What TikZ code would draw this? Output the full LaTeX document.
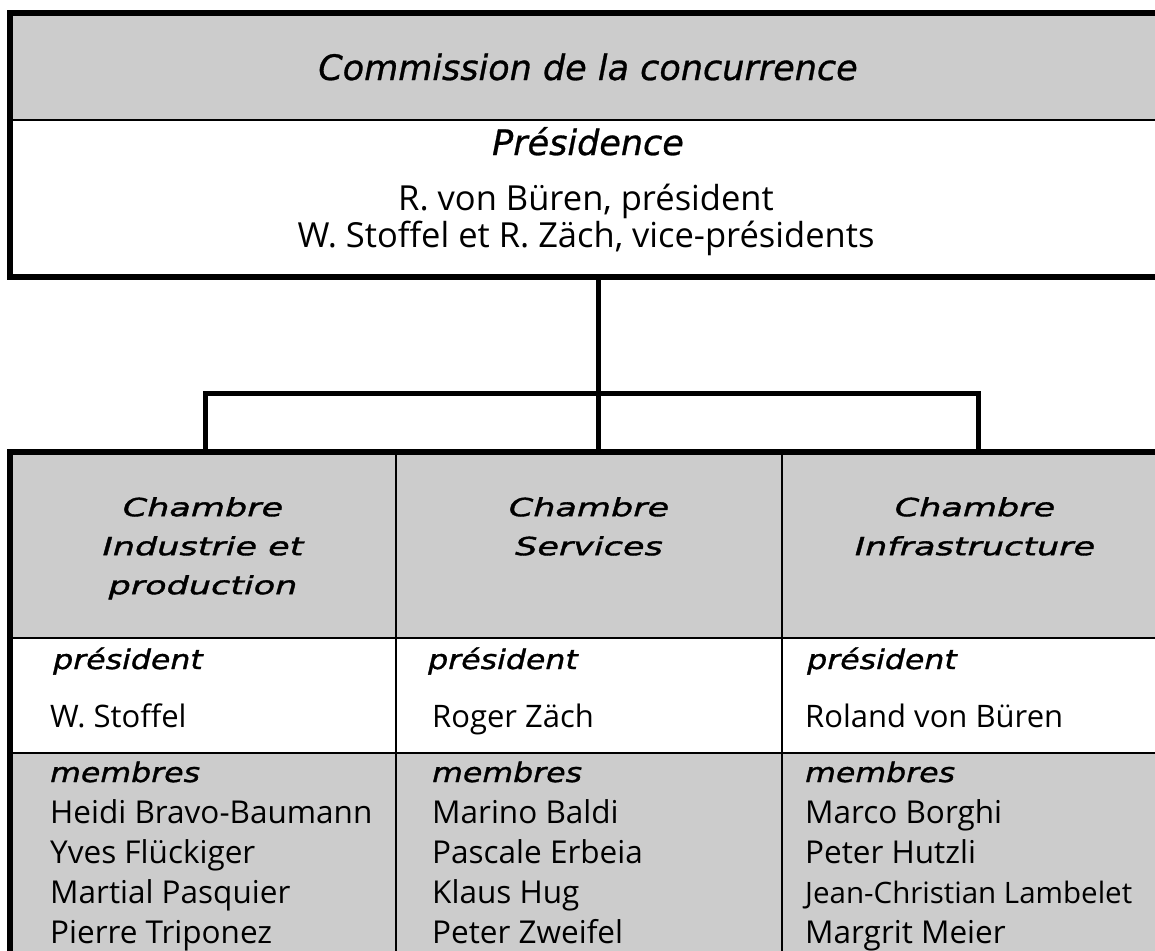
\documentclass[tikz,border=0pt]{standalone}
\usepackage{fontspec}
\setmainfont{Open Sans}
\newfontfamily\oblfont{DejaVu Sans}[FakeBold=0.8]
\newfontfamily\oblwide{DejaVu Sans}[FakeStretch=1.4, FakeBold=1.5]
\newfontfamily\oblmid{DejaVu Sans}[FakeStretch=1.17, FakeBold=1.2]
\usetikzlibrary{positioning}
\definecolor{cellgray}{HTML}{CCCCCC}

\begin{document}
\begin{tikzpicture}[
        x=1pt, y=-1pt,
        cell/.style={draw, line width=2pt, inner sep=0pt, outer sep=0pt, anchor=north west},
        graycell/.style={cell, fill=cellgray},
        heavy/.style={line width=6pt, line join=miter},
        link/.style={line width=5pt, line join=miter},
        titletext/.style={font=\oblfont\itshape\fontsize{35}{42}\selectfont, anchor=base, inner sep=0pt},
        plain/.style={font=\fontsize{34.5}{40}\selectfont, anchor=base, inner sep=0pt},
        chtext/.style={font=\oblwide\itshape\fontsize{25}{39}\selectfont, align=center, anchor=north, inner sep=0pt},
        lbl/.style={font=\oblmid\itshape\fontsize{27}{32}\selectfont, anchor=base west, inner sep=0pt},
        person/.style={font=\fontsize{31}{40}\selectfont, anchor=base west, inner sep=0pt},
        names/.style={font=\fontsize{31.5}{40}\selectfont, align=left, anchor=north west, inner sep=0pt}
      ]
      \useasboundingbox (0,0) rectangle (1155,950);
      \clip (0,0) rectangle (1155,950);

      % commission
      \node[graycell, minimum width=1158pt, minimum height=107pt] (comm) at (10,13) {};
      \node[cell, minimum width=1158pt, minimum height=156.5pt, below=0pt of comm] (pres) {};
      \draw[heavy] (pres.south east) -- (pres.south west) -- (comm.north west) -- (comm.north east);

      \node[titletext] (commT) at (588,80) {Commission de la concurrence};
      \node[titletext] (presT) at (588,155) {Présidence};
      \node[plain] (presA) at (586,210) {R. von Büren, président};
      \node[plain] (presB) at (586,247) {W. Stoffel et R. Zäch, vice-présidents};

      % chambres
      \node[graycell, minimum width=386pt, minimum height=186pt] (ch1) at (10,452) {};
      \node[graycell, minimum width=386pt, minimum height=186pt, right=0pt of ch1] (ch2) {};
      \node[graycell, minimum width=386pt, minimum height=186pt, right=0pt of ch2] (ch3) {};
      \node[cell, minimum width=386pt, minimum height=115pt, below=0pt of ch1] (p1) {};
      \node[cell, minimum width=386pt, minimum height=115pt, below=0pt of ch2] (p2) {};
      \node[cell, minimum width=386pt, minimum height=115pt, below=0pt of ch3] (p3) {};
      \node[graycell, minimum width=386pt, minimum height=250pt, below=0pt of p1] (m1) {};
      \node[graycell, minimum width=386pt, minimum height=250pt, below=0pt of p2] (m2) {};
      \node[graycell, minimum width=386pt, minimum height=250pt, below=0pt of p3] (m3) {};
      \draw[heavy] (m1.south west) -- (ch1.north west) -- (ch3.north east);

      % connectors
      \coordinate (hub) at (598,393);
      \coordinate (jl) at (205,393);
      \coordinate (jr) at (978,393);
      \draw[link] (pres.south -| hub) -- (ch2.north -| hub);
      \draw[link] (jl |- ch1.north) -- (jl) -- (jr) -- (jr |- ch3.north);

      \node[chtext, below=45pt of ch1.north] (ch1T) {Chambre\\Industrie et\\production};
      \node[chtext, below=45pt of ch2.north] (ch2T) {Chambre\\Services};
      \node[chtext, below=45pt of ch3.north] (ch3T) {Chambre\\Infrastructure};

      \node[lbl] (p1L) at (53,669) {président};
      \node[lbl] (p2L) at (428,669) {président};
      \node[lbl] (p3L) at (807,669) {président};
      \node[person] (p1N) at (50,727) {W. Stoffel};
      \node[person] (p2N) at (432,727) {Roger Zäch};
      \node[person] (p3N) at (805,727) {Roland von Büren};

      \node[lbl] (m1L) at (50,782) {membres};
      \node[lbl] (m2L) at (432,782) {membres};
      \node[lbl] (m3L) at (805,782) {membres};
      \node[names] (m1N) at (50,799) {Heidi Bravo-Baumann\\Yves Flückiger\\Martial Pasquier\\Pierre Triponez};
      \node[names] (m2N) at (432,799) {Marino Baldi\\Pascale Erbeia\\Klaus Hug\\Peter Zweifel};
      \node[names] (m3N) at (805,799) {Marco Borghi\\Peter Hutzli\\{\fontsize{29.5}{40}\selectfont Jean-Christian Lambelet}\\Margrit Meier};

      \end{tikzpicture}
\end{document}
